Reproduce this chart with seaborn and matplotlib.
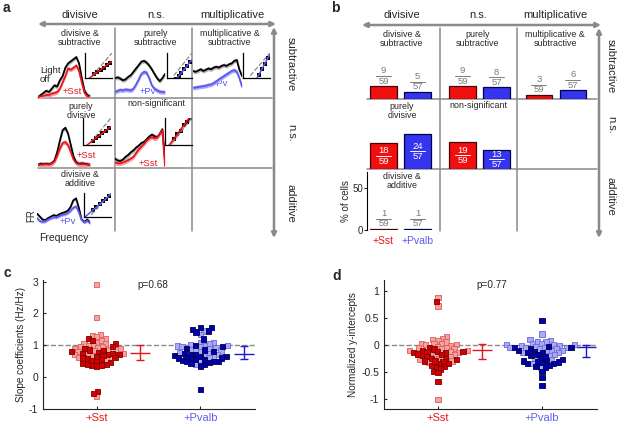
import numpy as np
import pandas as pd
import matplotlib
matplotlib.use("Agg")
import matplotlib.pyplot as plt
import seaborn as sns

sns.set_theme(style="white")
plt.rcParams['font.family'] = ['Liberation Sans', 'DejaVu Sans']

# ---------------- data ----------------
col_headers = ["divisive", "n.s.", "multiplicative"]
row_headers = ["subtractive", "n.s.", "additive"]
cell_titles = ["divisive &\nsubtractive", "purely\nsubtractive", "multiplicative &\nsubtractive",
               "purely\ndivisive", "non-significant", "divisive &\nadditive"]
cell_groups = ["Sst", "Pv", "Pv", "Sst", "Sst", "Pv"]

# panel a: example tuning curves (normalized FR), light off vs light on
off_1 = [0.0, 0.05, 0.1, 0.15, 0.12, 0.2, 0.28, 0.25, 0.4, 0.5, 0.7, 0.8, 0.85, 0.9, 0.95, 0.8, 0.45, 0.15, 0.05, 0.02]
on_1 = [0.0, 0.02, 0.03, 0.05, 0.05, 0.08, 0.1, 0.12, 0.2, 0.35, 0.5, 0.68, 0.65, 0.7, 0.75, 0.62, 0.35, 0.1, 0.02, 0.01]
off_2 = [0.45, 0.47, 0.44, 0.40, 0.42, 0.48, 0.52, 0.6, 0.68, 0.76, 0.84, 0.86, 0.82, 0.75, 0.66, 0.55, 0.45, 0.38, 0.45, 0.55]
on_2 = [0.12, 0.15, 0.17, 0.16, 0.18, 0.17, 0.16, 0.2, 0.3, 0.42, 0.55, 0.6, 0.58, 0.45, 0.28, 0.2, 0.16, 0.13, 0.12, 0.12]
off_3 = [0.62, 0.6, 0.63, 0.66, 0.62, 0.65, 0.68, 0.66, 0.7, 0.72, 0.7, 0.74, 0.76, 0.74, 0.78, 0.8, 0.86, 0.88, 0.65, 0.5]
on_3 = [0.22, 0.23, 0.24, 0.25, 0.26, 0.27, 0.29, 0.3, 0.33, 0.37, 0.42, 0.46, 0.5, 0.54, 0.58, 0.62, 0.64, 0.6, 0.45, 0.25]
off_4 = [0.03, 0.05, 0.04, 0.05, 0.04, 0.06, 0.12, 0.3, 0.55, 0.78, 0.83, 0.7, 0.45, 0.2, 0.08, 0.05, 0.06, 0.05, 0.04, 0.03]
on_4 = [0.02, 0.03, 0.03, 0.04, 0.03, 0.05, 0.1, 0.22, 0.38, 0.5, 0.52, 0.45, 0.3, 0.14, 0.06, 0.04, 0.04, 0.04, 0.03, 0.02]
off_5 = [0.16, 0.12, 0.11, 0.14, 0.2, 0.24, 0.3, 0.34, 0.4, 0.44, 0.5, 0.52, 0.58, 0.64, 0.68, 0.65, 0.62, 0.7, 0.8, 0.15]
on_5 = [0.08, 0.06, 0.06, 0.08, 0.1, 0.13, 0.16, 0.2, 0.28, 0.36, 0.42, 0.48, 0.55, 0.6, 0.63, 0.6, 0.62, 0.7, 0.78, 0.0]
off_6 = [0.4, 0.3, 0.2, 0.18, 0.25, 0.3, 0.35, 0.32, 0.38, 0.42, 0.45, 0.5, 0.62, 0.85, 0.92, 0.6, 0.2, 0.12, 0.2, 0.1]
on_6 = [0.25, 0.15, 0.12, 0.14, 0.2, 0.25, 0.28, 0.27, 0.32, 0.36, 0.38, 0.42, 0.5, 0.6, 0.65, 0.45, 0.18, 0.1, 0.16, 0.08]

# panel a insets: FR light off (x) vs light on (y)
inset_x = [0.15, 0.3, 0.45, 0.6, 0.75, 0.9]
inset_y_1 = [0.1, 0.2, 0.3, 0.38, 0.5, 0.6]
inset_y_2 = [-0.1, 0.03, 0.17, 0.32, 0.47, 0.62]
inset_y_3 = [-0.4, -0.17, 0.07, 0.32, 0.55, 0.8]
inset_y_4 = [0.12, 0.21, 0.31, 0.41, 0.5, 0.6]
inset_y_5 = [0.2, 0.38, 0.5, 0.72, 0.85, 1.0]
inset_y_6 = [0.27, 0.4, 0.52, 0.63, 0.75, 0.88]
fit_slopes = [0.65, 1.0, 1.6, 0.65, 1.1, 0.8]
fit_intercepts = [0.0, -0.28, -0.65, 0.02, 0.05, 0.15]

# panel b: counts per category
sst_counts = [9, 9, 3, 18, 19, 1]
pvalb_counts = [5, 8, 6, 24, 13, 1]
sst_total = 59
pvalb_total = 57
bar_groups = ["+Sst", "+Pvalb"]

# panel c: slope coefficients
sst_slope_sig = [1.22, 1.15, 1.05, 0.95, 0.9, 0.85, 0.82, 0.8, 0.78, 0.75, 0.75, 0.72, 0.7, 0.68, 0.65,
                 0.62, 0.6, 0.58, 0.55, 0.52, 0.5, 0.45, 0.42, 0.4, 0.38, 0.36, 0.35, 0.4, -0.45, -0.52]
sst_slope_ns = [2.9, 1.88, 1.35, 1.3, 1.28, 1.2, 1.15, 1.1, 1.05, 1.05, 1.0, 0.98, 0.95, 0.95, 0.92,
                0.9, 0.9, 0.88, 0.85, 0.82, 0.8, 0.75, 0.72, 0.7, 0.68, 0.62, 0.6, 0.55, -0.62]
pv_slope_sig = [1.55, 1.55, 1.5, 1.45, 1.42, 1.2, 1.0, 0.95, 0.9, 0.85, 0.8, 0.75, 0.72, 0.7, 0.68, 0.65,
                0.65, 0.62, 0.6, 0.6, 0.58, 0.55, 0.55, 0.52, 0.5, 0.5, 0.48, 0.45, 0.42, 0.4, 0.35, -0.38]
pv_slope_ns = [1.45, 1.35, 1.1, 1.08, 1.05, 1.02, 1.0, 1.0, 0.98, 0.95, 0.95, 0.92, 0.9, 0.88, 0.85,
               0.82, 0.8, 0.78, 0.75, 0.72, 0.7, 0.65, 0.6, 0.5, 0.4]
slope_mean = [0.77, 0.73]
slope_low = [0.55, 0.57]
slope_high = [1.02, 0.98]

# panel d: normalized y-intercepts
sst_int_sig = [0.8, -0.05, -0.08, -0.1, -0.12, -0.13, -0.15, -0.15, -0.17, -0.2, -0.22, -0.25, -0.25, -0.28,
               -0.3, -0.32, -0.35, -0.38, -0.4, -0.42, -0.45, -0.5, -0.52, -0.68, -0.35, -0.3, -0.12, -0.18]
sst_int_ns = [0.88, 0.72, 0.15, 0.12, 0.1, 0.08, 0.05, 0.03, 0.02, 0.02, 0.0, 0.0, -0.02, -0.03, -0.05, -0.05,
              -0.07, -0.08, -0.1, -0.1, -0.12, -0.15, -0.15, -0.18, -0.2, -0.22, -0.25, -0.28, -0.3, -0.32, -1.02]
pv_int_sig = [0.45, -0.03, -0.05, -0.05, -0.08, -0.1, -0.12, -0.15, -0.18, -0.2, -0.22, -0.25, -0.28, -0.3,
              -0.3, -0.32, -0.32, -0.35, -0.35, -0.38, -0.4, -0.42, -0.5, -0.6, -0.75, -0.33, -0.15]
pv_int_ns = [0.2, 0.1, 0.08, 0.05, 0.05, 0.03, 0.02, 0.0, 0.0, 0.0, -0.02, -0.02, -0.03, -0.05, -0.05, -0.05,
             -0.08, -0.08, -0.1, -0.1, -0.12, -0.15, -0.15, -0.18, -0.2, -0.25, -0.28, -0.35, -0.42, -0.05]
int_mean = [-0.1, -0.05]
int_low = [-0.27, -0.22]
int_high = [0.02, 0.0]

# ---------------- style ----------------
W, H = 617, 426
GRAY = '#8a8a8a'
RED = '#e8141c'
RED_BAND = '#f4a0a4'
BLUE = '#5a5af0'
BLUE_BAND = '#a8a8f8'
BAR_RED = '#f01010'
BAR_BLUE = '#3535f0'
DARK_RED, DARK_RED_E = '#d40000', '#7a0000'
LIGHT_RED, LIGHT_RED_E = '#f4a3a3', '#e05a5a'
DARK_BLUE, DARK_BLUE_E = '#0000b0', '#000050'
LIGHT_BLUE, LIGHT_BLUE_E = '#aaaaf4', '#6a6ad8'

fig = plt.figure(figsize=(6.17, 4.26), dpi=100)
bg = fig.add_axes([0, 0, 1, 1])
bg.set_xlim(0, W)
bg.set_ylim(H, 0)
bg.axis('off')


def px_axes(l, t, r, b):
    ax = fig.add_axes([l / W, 1 - b / H, (r - l) / W, (b - t) / H])
    ax.set_facecolor('none')
    return ax


def arrow(x0, y0, x1, y1):
    bg.annotate('', xy=(x1, y1), xytext=(x0, y0),
                arrowprops=dict(arrowstyle='<|-|>', color=GRAY, lw=1.8,
                                mutation_scale=7, shrinkA=0, shrinkB=0))


# panel labels
for s, (x, y) in zip("abcd", [(3, 8), (331, 8), (3, 273), (332, 276)]):
    bg.text(x, y, s, fontsize=10, fontweight='bold', va='center', ha='left')

# ---- grid frames for a and b ----
for colx, hdr_x, vx, rowx, hline_l, row_y, hlines in [
        ([115, 192], [80, 156, 232], 274, 291, 38, [64, 133, 203], [98, 168]),
        ([440, 517], [402, 478, 555], 599, 611, 367, [66, 125, 196], [99, 169])]:
    for cx in colx:
        bg.plot([cx, cx], [28, 231], color=GRAY, lw=1.1)
    for hy in hlines:
        bg.plot([hline_l, vx - 2], [hy, hy], color=GRAY, lw=1.1)
    for s, hx in zip(col_headers, hdr_x):
        bg.text(hx, 15, s, fontsize=8, ha='center', va='center')
    for s, ry in zip(row_headers, row_y):
        bg.text(rowx, ry, s, fontsize=8, ha='center', va='center', rotation=-90)
arrow(38, 24, 276, 24)
arrow(274, 27, 274, 238)
arrow(362, 25, 601, 25)
arrow(599, 28, 599, 238)

# ---- panel a ----
a_title_pos = [(80, 38), (156, 38), (230, 38), (81, 111), (156, 104), (80, 179)]
curve_boxes = [(38, 55, 90, 98), (115, 55, 165, 98), (193, 55, 242, 98),
               (38, 120, 90, 167), (115, 120, 165, 167), (37, 196, 90, 226)]
inset_boxes = [(85, 53, 112, 78), (167, 53, 192, 78), (243, 53, 270, 78),
               (83, 118, 111, 145), (165, 118, 192, 145), (84, 193, 111, 217)]
offs = [off_1, off_2, off_3, off_4, off_5, off_6]
ons = [on_1, on_2, on_3, on_4, on_5, on_6]
inset_ys = [inset_y_1, inset_y_2, inset_y_3, inset_y_4, inset_y_5, inset_y_6]
on_labels = [(72, 91), (148, 92), (220, 83), (86, 155), (148, 163), (68, 222)]

for k in range(6):
    bg.text(*a_title_pos[k], cell_titles[k], fontsize=6.4, ha='center', va='center', linespacing=0.95)
    col = RED if cell_groups[k] == "Sst" else BLUE
    band = RED_BAND if cell_groups[k] == "Sst" else BLUE_BAND
    ax = px_axes(*curve_boxes[k])
    f = np.arange(len(offs[k]))
    off = np.array(offs[k])
    on = np.array(ons[k])
    ax.fill_between(f, off - 0.05, off + 0.05, color='#b5b5b5', lw=0)
    sns.lineplot(x=f, y=off, ax=ax, color='black', lw=1.3)
    ax.fill_between(f, on - 0.05, on + 0.05, color=band, lw=0)
    sns.lineplot(x=f, y=on, ax=ax, color=col, lw=1.3)
    ax.set_xlim(0, len(f) - 1)
    ax.set_ylim(-0.02, 1.0)
    ax.axis('off')
    lab = "+Sst" if cell_groups[k] == "Sst" else "+Pv"
    bg.text(*on_labels[k], lab, color=col, fontsize=6.8, ha='center', va='center')

    ia = px_axes(*inset_boxes[k])
    for sp in ['top', 'right']:
        ia.spines[sp].set_visible(False)
    for sp in ['left', 'bottom']:
        ia.spines[sp].set_color('black')
        ia.spines[sp].set_linewidth(0.9)
    ia.set_xticks([])
    ia.set_yticks([])
    ia.plot([0.05, 1.0], [0.05, 1.0], ls='--', color=GRAY, lw=0.9)
    lx = np.array([-0.3, 1.0])
    ly = fit_slopes[k] * lx + fit_intercepts[k]
    if k == 4:
        ia.fill_between(lx, ly - 0.1, ly + 0.1, color=RED_BAND, lw=0)
    sns.lineplot(x=lx, y=ly, ax=ia, color=col, lw=1.1)
    sns.scatterplot(x=inset_x, y=inset_ys[k], ax=ia, color='black', s=5, marker='s', edgecolor='black', lw=0)
    ia.set_xlim(-0.3, 1.0)
    ia.set_ylim(-0.05, 1.0)

bg.text(40, 75, "Light\noff", fontsize=6.8, ha='left', va='center', linespacing=0.95)
bg.text(31, 216, "FR", fontsize=7, ha='center', va='center', rotation=90)
bg.text(64, 238, "Frequency", fontsize=7.5, ha='center', va='center')

# ---- panel b ----
b_title_pos = [(402, 39), (478, 39), (555, 39), (402, 111), (478, 106), (402, 181)]
b_cells = [(0, 0), (1, 0), (2, 0), (0, 1), (1, 1), (0, 2)]
red_centers = [383.5, 462.5, 539]
row_base = [99, 169, 230]
row_top = [28, 110, 172]
px_per_pct = 0.84
px_per_unit = 34.0


def fraction(ax, x, yc, n, d, color):
    # yc: centre of fraction, in % units
    dy = 5.2 / px_per_pct
    ax.text(x, yc + dy, str(n), color=color, fontsize=6.8, ha='center', va='center')
    ax.text(x, yc - dy, str(d), color=color, fontsize=6.8, ha='center', va='center')
    hw = 7.5 / px_per_unit
    ax.plot([x - hw, x + hw], [yc, yc], color=color, lw=0.7)


for k, (c, r) in enumerate(b_cells):
    bg.text(*b_title_pos[k], cell_titles[k], fontsize=6.4, ha='center', va='center', linespacing=0.95)
    left = red_centers[c] - 16.5
    ax = px_axes(left, row_top[r], left + 70, row_base[r])
    pct = [sst_counts[k] / sst_total * 100, pvalb_counts[k] / pvalb_total * 100]
    df = pd.DataFrame({"grp": bar_groups, "pct": pct})
    sns.barplot(data=df, x="grp", y="pct", hue="grp", palette=[BAR_RED, BAR_BLUE],
                width=0.79, ax=ax, legend=False, linewidth=0.9, saturation=1)
    for p, ec in zip(ax.patches, ['#4a0000', '#00004a']):
        p.set_edgecolor(ec)
    ax.set_xlim(-0.485, -0.485 + 70 / px_per_unit)
    ax.set_ylim(0, (row_base[r] - row_top[r]) / px_per_pct)
    fracs = [(sst_counts[k], sst_total), (pvalb_counts[k], pvalb_total)]
    for i, (n, d) in enumerate(fracs):
        if r == 1:
            fraction(ax, i, pct[i] / 2, n, d, 'white')
        else:
            fraction(ax, i, pct[i] + 10 / px_per_pct, n, d, '#7a7a7a')
    ax.set_xlabel('')
    ax.set_ylabel('')
    if r == 2:
        sns.despine(ax=ax, bottom=True)
        ax.spines['left'].set_color('black')
        ax.spines['left'].set_linewidth(0.8)
        ax.set_yticks([0, 50])
        ax.tick_params(axis='y', direction='out', length=2, width=0.8, labelsize=7, pad=1, left=True)
        ax.tick_params(axis='x', length=0, labelsize=7.5, pad=4)
        ax.set_ylabel("% of cells", fontsize=7, labelpad=1)
        for t, cc in zip(ax.get_xticklabels(), [RED, BLUE]):
            t.set_color(cc)
    else:
        ax.axis('off')


# ---- panels c, d ----
scatter_axes = []


def scatter_panel(box, sst_sig, sst_ns, pv_sig, pv_ns, means, lows, highs, ref, ylim, yticks, ylabel, ptxt, pxy):
    ax = px_axes(*box)
    grp = (["+Sst"] * (len(sst_sig) + len(sst_ns)) + ["+Pvalb"] * (len(pv_sig) + len(pv_ns)))
    vals = sst_ns + sst_sig + pv_ns + pv_sig
    kind = (["sst_ns"] * len(sst_ns) + ["sst_sig"] * len(sst_sig) +
            ["pv_ns"] * len(pv_ns) + ["pv_sig"] * len(pv_sig))
    df = pd.DataFrame({"grp": grp, "val": vals, "kind": kind})
    ax.axhline(ref, color=GRAY, ls='--', lw=1.0, zorder=0)
    pal = {"sst_sig": DARK_RED, "sst_ns": LIGHT_RED, "pv_sig": DARK_BLUE, "pv_ns": LIGHT_BLUE}
    sns.swarmplot(data=df, x="grp", y="val", hue="kind", palette=pal, order=bar_groups,
                  marker='s', size=2.65, ax=ax, legend=False, linewidth=0.6, edgecolor='face')
    edge_map = [(DARK_RED, DARK_RED_E), (LIGHT_RED, LIGHT_RED_E), (DARK_BLUE, DARK_BLUE_E), (LIGHT_BLUE, LIGHT_BLUE_E)]
    for coll in ax.collections:
        fcs = coll.get_facecolors()
        if len(fcs) == 0:
            continue
        ecs = []
        for fc in fcs:
            e = fc
            for fill, edge in edge_map:
                if np.allclose(fc[:3], matplotlib.colors.to_rgb(fill), atol=0.02):
                    e = matplotlib.colors.to_rgba(edge)
            ecs.append(e)
        coll.set_edgecolors(ecs)
        coll.set_linewidth(0.6)
    for i, cc in enumerate([RED, '#1a1ac8']):
        ax.errorbar([i + 0.42], [means[i]], yerr=[[means[i] - lows[i]], [highs[i] - means[i]]],
                    color=cc, capsize=3, lw=1.0, capthick=1.0, marker='_', markersize=15, mew=1.0)
    ax.set_xlim(-0.52, 1.53)
    ax.set_ylim(*ylim)
    ax.set_yticks(yticks)
    ax.set_yticklabels([("%g" % t) for t in yticks])
    sns.despine(ax=ax)
    for sp in ['left', 'bottom']:
        ax.spines[sp].set_color('#222222')
        ax.spines[sp].set_linewidth(0.8)
    ax.tick_params(axis='both', direction='in', length=2.5, width=0.8, labelsize=7.5, left=True, bottom=True)
    ax.tick_params(axis='x', labelsize=8, pad=3)
    for t, cc in zip(ax.get_xticklabels(), [RED, '#6060e8']):
        t.set_color(cc)
    ax.set_xlabel('')
    ax.set_ylabel(ylabel, fontsize=7.2, labelpad=2)
    bg.text(*pxy, ptxt, fontsize=7.2, ha='center', va='center')
    scatter_axes.append(ax)
    return ax


scatter_panel((43, 280, 255, 409), sst_slope_sig, sst_slope_ns, pv_slope_sig, pv_slope_ns,
              slope_mean, slope_low, slope_high, 1.0, (-1, 3.05), [-1, 0, 1, 2, 3],
              "Slope coefficients (Hz/Hz)", "p=0.68", (153, 285))
scatter_panel((384, 280, 597, 409), sst_int_sig, sst_int_ns, pv_int_sig, pv_int_ns,
              int_mean, int_low, int_high, 0.0, (-1.19, 1.2), [-1, -0.5, 0, 0.5, 1],
              "Normalized y-intercepts", "p=0.77", (492, 285))

# lay out the swarms with compact spacing, then show the squares at full size
fig.canvas.draw()
for ax in scatter_axes:
    for coll in ax.collections:
        if 'draw' in coll.__dict__:
            del coll.__dict__['draw']
            coll.set_sizes([14])

fig.savefig("out.png", dpi=100)
